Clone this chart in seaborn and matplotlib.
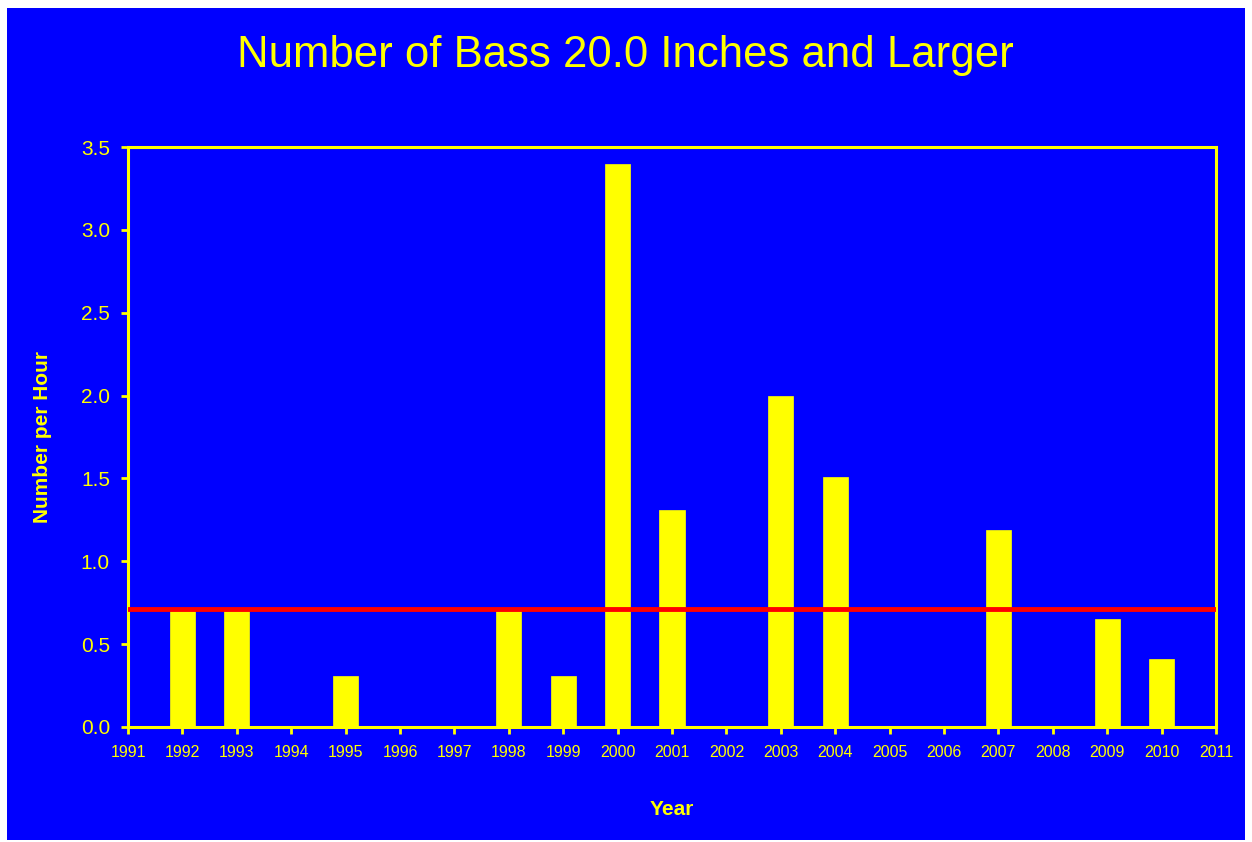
import pandas as pd
import seaborn as sns
import matplotlib.pyplot as plt
from matplotlib.patches import Rectangle

# data
years = [1992, 1993, 1994, 1995, 1996, 1997, 1998, 1999, 2000, 2001,
         2002, 2003, 2004, 2005, 2006, 2007, 2008, 2009, 2010]
per_hour = [0.70, 0.70, 0.0, 0.31, 0.0, 0.0, 0.70, 0.31, 3.40, 1.31,
            0.0, 2.00, 1.51, 0.0, 0.0, 1.19, 0.0, 0.65, 0.41]
average_line = 0.71
x_ticks = list(range(1991, 2012))
y_ticks = [0.0, 0.5, 1.0, 1.5, 2.0, 2.5, 3.0, 3.5]

df = pd.DataFrame({"Year": years, "Number per Hour": per_hour})

sns.set_style("white")
plt.rcParams["font.family"] = ["Liberation Sans", "DejaVu Sans"]

yellow = "#FFFF00"
blue = "#0000FF"

fig = plt.figure(figsize=(12.52, 8.42), dpi=100)
fig.patch.set_facecolor("white")
# blue panel with a thin white margin, kept behind the axes
fig.patches.append(Rectangle((7 / 1252, 2 / 842), (1245 - 7) / 1252, (840 - 8) / 842,
                             transform=fig.transFigure, facecolor=blue,
                             edgecolor="none", zorder=-10))

ax = fig.add_axes([128 / 1252, 1 - 727 / 842, (1216 - 128) / 1252, (727 - 147) / 842])
ax.set_facecolor(blue)

sns.barplot(data=df, x="Year", y="Number per Hour", native_scale=True,
            width=0.46, color=yellow, saturation=1, edgecolor=yellow,
            linewidth=0.5, ax=ax, zorder=2)
ax.axhline(average_line, color="#FF0000", linewidth=3.5, zorder=3)

ax.set_xlim(1991, 2011)
ax.set_ylim(0, 3.5)
ax.set_xticks(x_ticks)
ax.set_xticklabels([str(y) for y in x_ticks])
ax.set_yticks(y_ticks)
ax.set_yticklabels([f"{v:.1f}" for v in y_ticks])

for side in ["left", "right", "top", "bottom"]:
    ax.spines[side].set_visible(True)
    ax.spines[side].set_color(yellow)
    ax.spines[side].set_linewidth(2.2)

ax.tick_params(axis="x", colors=yellow, labelsize=11.5, length=5, width=2, direction="out", pad=8, bottom=True)
ax.tick_params(axis="y", colors=yellow, labelsize=15, length=5, width=2, direction="out", pad=8, left=True)

ax.set_xlabel("Year", color=yellow, fontsize=15, fontweight="bold", labelpad=29)
ax.set_ylabel("Number per Hour", color=yellow, fontsize=15, fontweight="bold", labelpad=21)

fig.text(625 / 1252, 1 - 55 / 842, "Number of Bass 20.0 Inches and Larger",
         color=yellow, fontsize=31.5, ha="center", va="center")

fig.savefig("out.png", dpi=100, facecolor=fig.get_facecolor())
